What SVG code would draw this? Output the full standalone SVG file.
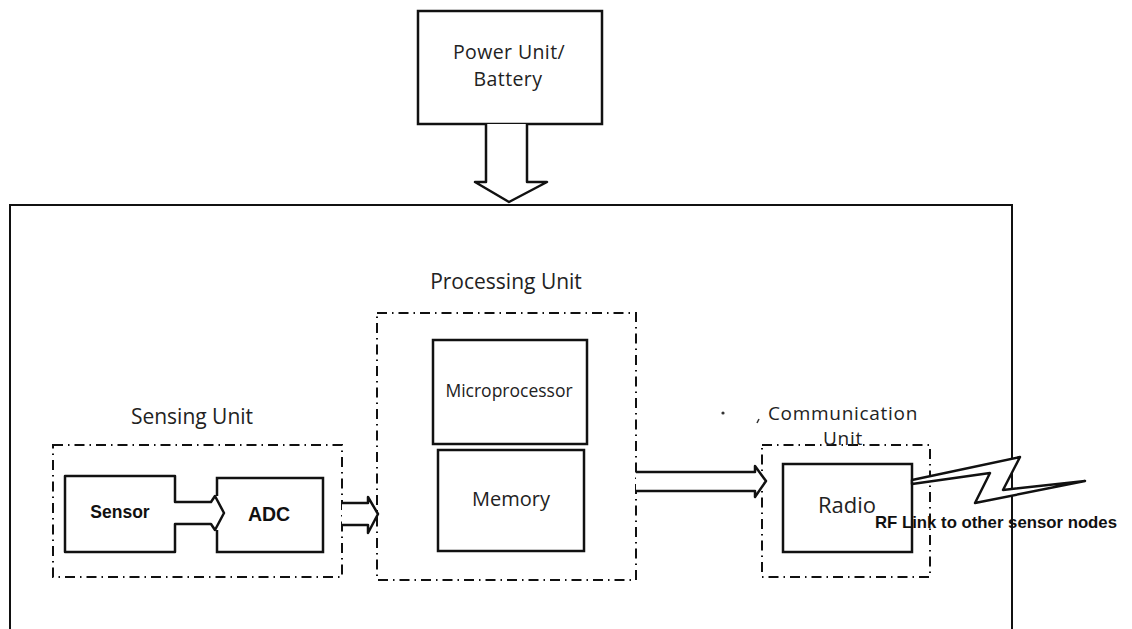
<svg xmlns="http://www.w3.org/2000/svg" width="1132" height="629" viewBox="0 0 1132 629">
<style>
.box{fill:none;stroke:#111;stroke-width:2.5}
.outer{fill:none;stroke:#111;stroke-width:2}
.dash{fill:none;stroke:#111;stroke-width:2;stroke-dasharray:10 5 1.5 5}
.arr{fill:#fff;stroke:#111;stroke-width:2.5;stroke-linejoin:round}
.t{font-family:"Open Sans","Liberation Sans",sans-serif;fill:#222;text-anchor:middle}
.lbl{font-size:21px}
.b{font-family:"Liberation Sans",Arial,sans-serif;font-weight:bold;fill:#111;text-anchor:middle}
</style>
<rect width="1132" height="629" fill="#fff"/>

<g id="sensor-node">
  <path class="outer" d="M10,640 V205 H1012 V640"/>
</g>

<g id="power-unit">
  <rect class="box" x="418" y="11" width="184" height="113" fill="#fff"/>
  <text class="t" x="509" y="59" font-size="19.5" letter-spacing="0.4">Power Unit/</text>
  <text class="t" x="508" y="86" font-size="19.5" letter-spacing="0.4">Battery</text>
</g>

<g id="sensing-unit">
  <rect class="dash" x="53" y="445" width="289" height="132"/>
  <text class="t lbl" x="192" y="424">Sensing Unit</text>
</g>

<g id="sensor">
  <path class="arr" d="M65,476 H175 V502 H211 L215,496 L224,513 L215,530 L211,524 H175 V552 H65 Z" fill="#fff"/>
  <text class="b" x="120" y="518" font-size="17.5">Sensor</text>
</g>

<g id="adc">
  <path class="box" d="M217,496 V478 H323 V552 H217 V530"/>
  <text class="b" x="269" y="521" font-size="19.5">ADC</text>
</g>

<g id="processing-unit">
  <rect class="dash" x="377" y="313" width="259" height="267"/>
  <text class="t lbl" x="506" y="289">Processing Unit</text>
</g>

<g id="microprocessor">
  <rect class="box" x="433" y="340" width="154" height="104"/>
  <text class="t" x="509" y="397" font-size="17.5">Microprocessor</text>
</g>

<g id="memory">
  <rect class="box" x="438" y="450" width="146" height="101"/>
  <text class="t" x="511" y="506" font-size="20">Memory</text>
</g>

<g id="communication-unit">
  <rect class="dash" x="762" y="445" width="168" height="132"/>
  <text class="t" x="843" y="420" font-size="19" letter-spacing="0.7">Communication</text>
  <text class="t" x="843" y="445" font-size="19" letter-spacing="0.7">Unit</text>
  <circle cx="723" cy="413" r="1.6" fill="#333"/>
  <path d="M759,419 l-2,4" stroke="#333" stroke-width="1.5" fill="none"/>
</g>

<g id="radio">
  <rect class="box" x="783" y="464" width="129" height="88" fill="#fff"/>
  <text class="t" x="847" y="513" font-size="22">Radio</text>
</g>

<g id="connectors">
  <path class="arr" d="M486,124 V182 H475 L509,202 L547,182 H527 V124"/>
  <path class="arr" d="M342,503 H368 V497 L378,514 L368,533 V525 H342"/>
  <path class="arr" d="M636,472 H755 V466 L766,481 L755,497 V491 H636"/>
  <path class="arr" stroke-width="1.8" d="M912,480 L1020,457 L1003,490 L1085,481 L975,503 L990,473 L912,484 Z"/>
  <text class="b" x="996" y="528" font-size="17" textLength="242" lengthAdjust="spacingAndGlyphs">RF Link to other sensor nodes</text>
</g>
</svg>
